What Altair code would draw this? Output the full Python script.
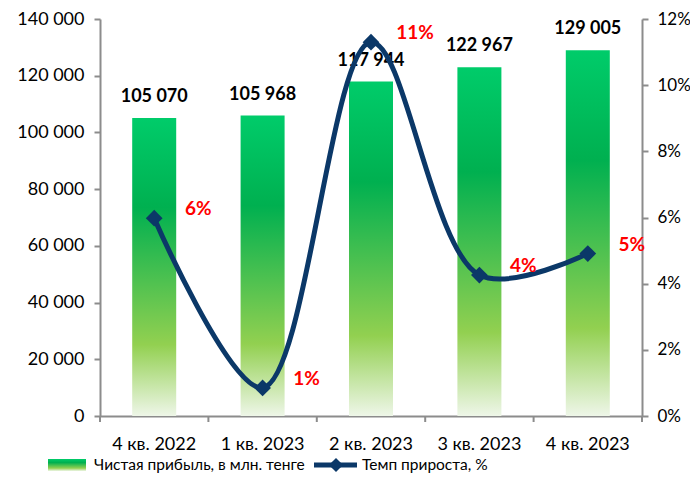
import altair as alt
import pandas as pd

quarters = ["4 кв. 2022", "1 кв. 2023", "2 кв. 2023", "3 кв. 2023", "4 кв. 2023"]
profit = [105070, 105968, 117944, 122967, 129005]
growth = [0.0598, 0.0085, 0.1130, 0.0426, 0.0491]
left_ticks = [0, 20000, 40000, 60000, 80000, 100000, 120000, 140000]
right_ticks = [0, 0.02, 0.04, 0.06, 0.08, 0.10, 0.12]
legend_labels = ["Чистая прибыль, в млн. тенге", "Темп прироста, %"]

df = pd.DataFrame({"q": quarters, "profit": profit, "growth": growth})
dummy = pd.DataFrame({"a": [0]})

W, H = 542, 397
FONT = "Lato"
NAVY = "#0b3868"
GRAY = "#8c8c8c"
LEG_Y = 446

grad = alt.Gradient(
    gradient="linear",
    stops=[
        alt.GradientStop(color="#00cc6a", offset=0),
        alt.GradientStop(color="#00b050", offset=0.3),
        alt.GradientStop(color="#92d050", offset=0.76),
        alt.GradientStop(color="#eef6e8", offset=1),
    ],
    x1=0, x2=0, y1=0, y2=1,
)

x_axis = alt.Axis(title=None, labelAngle=0, ticks=False, domainColor=GRAY, domainWidth=2,
                  labelFontSize=18, labelFont=FONT, labelColor="#000", labelPadding=19)
x_scale = alt.Scale(paddingInner=0, paddingOuter=0)
x_enc = alt.X("q:N", sort=quarters, scale=x_scale, axis=x_axis)

y_left = alt.Y("profit:Q", scale=alt.Scale(domain=[0, 140000], nice=False),
               axis=alt.Axis(values=left_ticks, title=None, orient="left", grid=False,
                             labelExpr="replace(format(datum.value, ','), ',', ' ')",
                             domainColor=GRAY, domainWidth=2, tickColor=GRAY, tickWidth=2,
                             tickSize=6, labelFontSize=18, labelFont=FONT, labelColor="#000",
                             labelPadding=10))
y_right = alt.Y("growth:Q", scale=alt.Scale(domain=[0, 0.12], nice=False),
                axis=alt.Axis(values=right_ticks, title=None, orient="right", grid=False,
                              format=".0%", domainColor=GRAY, domainWidth=2, tickColor=GRAY,
                              tickWidth=2, tickSize=6, labelFontSize=17, labelFont=FONT,
                              labelColor="#000", labelPadding=9))

base = alt.Chart(df)

bars = base.mark_bar(size=44, color=grad).encode(x=x_enc, y=y_left)
bar_labels = base.transform_calculate(
    lbl="replace(format(datum.profit, ','), ',', ' ')"
).mark_text(dy=-21, fontSize=18, fontWeight="bold", font=FONT, color="#000",
            baseline="middle").encode(x=x_enc, y=y_left, text="lbl:N")

ticks = base.mark_rule(color=GRAY, strokeWidth=2).encode(
    x=alt.X("q:N", sort=quarters, scale=x_scale, axis=x_axis, bandPosition=0),
    y=alt.value(H), y2=alt.value(H + 6))
tick_end = alt.Chart(dummy).mark_rule(color=GRAY, strokeWidth=2).encode(
    x=alt.value(W), y=alt.value(H), y2=alt.value(H + 6))

leg_rect = alt.Chart(dummy).mark_rect(color=grad).encode(
    x=alt.value(-52), x2=alt.value(-14), y=alt.value(LEG_Y - 6), y2=alt.value(LEG_Y + 6))
leg_text1 = alt.Chart(dummy).mark_text(align="left", baseline="middle", fontSize=15.5,
                                       font=FONT, color="#000").encode(
    x=alt.value(-6), y=alt.value(LEG_Y), text=alt.value(legend_labels[0]))
leg_line = alt.Chart(dummy).mark_rule(color=NAVY, strokeWidth=5).encode(
    x=alt.value(214), x2=alt.value(257), y=alt.value(LEG_Y))
leg_diamond = alt.Chart(dummy).mark_point(shape="diamond", filled=True, size=200,
                                          color=NAVY, opacity=1).encode(
    x=alt.value(236), y=alt.value(LEG_Y))
leg_text2 = alt.Chart(dummy).mark_text(align="left", baseline="middle", fontSize=15.5,
                                       font=FONT, color="#000").encode(
    x=alt.value(262), y=alt.value(LEG_Y), text=alt.value(legend_labels[1]))

left = alt.layer(bars, bar_labels, ticks, tick_end, leg_rect, leg_text1,
                 leg_line, leg_diamond, leg_text2)

line = base.mark_line(interpolate="catmull-rom", color=NAVY, strokeWidth=5).encode(
    x=x_enc, y=y_right)
points = base.mark_point(shape="diamond", filled=True, size=280, color=NAVY,
                         opacity=1).encode(x=x_enc, y=y_right)
pct_labels = base.mark_text(dx=44, dy=-9, fontSize=19, fontWeight="bold", font=FONT,
                            color="#ff0000").encode(
    x=x_enc, y=y_right, text=alt.Text("growth:Q", format=".0%"))

right = alt.layer(line, points, pct_labels)

chart = alt.layer(left, right).resolve_scale(y="independent").properties(
    width=W, height=H,
    autosize=alt.AutoSizeParams(type="none"),
    padding={"left": 92, "top": 11, "right": 48, "bottom": 57},
).configure_view(stroke=None)

chart.save("out.html", embed_options={"renderer": "svg", "actions": False})
